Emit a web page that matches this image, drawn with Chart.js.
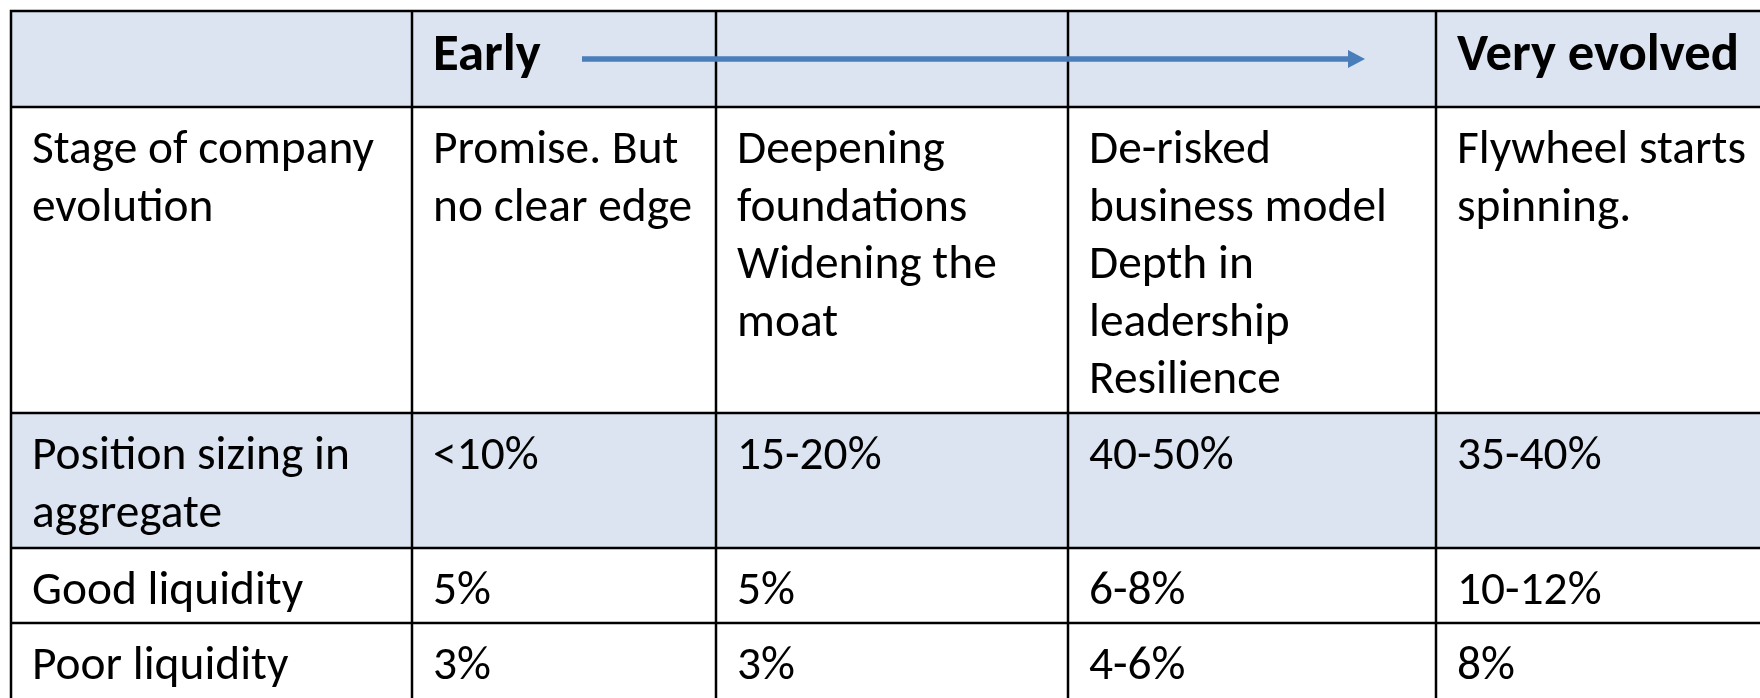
<!DOCTYPE html>
<html><head><meta charset="utf-8">
<script src="https://cdn.jsdelivr.net/npm/chart.js@4/dist/chart.umd.min.js"></script>
<style>html,body{margin:0;padding:0;background:#fff;overflow:hidden}canvas{display:block}</style>
</head><body>
<canvas id="c" width="1760" height="698"></canvas>
<script>
// ---- table content ----
const columnHeaders = ["", "Early", "", "", "Very evolved"];
const rowLabels = ["Stage of company\nevolution", "Position sizing in\naggregate", "Good liquidity", "Poor liquidity"];
const earlyStage = ["Promise. But\nno clear edge", "<10%", "5%", "3%"];
const deepeningStage = ["Deepening\nfoundations\nWidening the\nmoat", "15-20%", "5%", "3%"];
const deRiskedStage = ["De-risked\nbusiness model\nDepth in\nleadership\nResilience", "40-50%", "6-8%", "4-6%"];
const evolvedStage = ["Flywheel starts\nspinning.", "35-40%", "10-12%", "8%"];
const columns = [rowLabels, earlyStage, deepeningStage, deRiskedStage, evolvedStage];

// ---- layout & style (kept apart from the data) ----
const LAYOUT = {
  colEdges: [11, 412, 716, 1068, 1436, 1800],
  rowEdges: [11, 107, 413, 548, 623, 740],
  shaded: [true, false, true, false, false],
  padX: 21, baseline: 56, headerBaseline: 59, lineHeight: 57.5,
  arrow: { x0: 582, x1: 1365, y: 59, headLen: 17, headHalf: 9, width: 5.5 }
};
const STYLE = {
  fill: '#dbe4f0', border: '#000000', borderWidth: 2.5, text: '#000000', arrow: '#4a7ebb',
  family: "Carlito, Calibri, Lato, 'Open Sans', sans-serif"
};

function fitSize(ctx, weight, sample, target) {
  ctx.font = weight + ' 100px ' + STYLE.family;
  return 100 * target / ctx.measureText(sample).width;
}

const tablePlugin = {
  id: 'table',
  afterDraw(chart) {
    const ctx = chart.ctx, xs = chart.scales.x, ys = chart.scales.y;
    const X = v => xs.getPixelForValue(v), Y = v => ys.getPixelForValue(v);
    const cE = LAYOUT.colEdges, rE = LAYOUT.rowEdges;
    ctx.save();
    // fills
    ctx.fillStyle = STYLE.fill;
    for (let r = 0; r < rE.length - 1; r++) {
      if (!LAYOUT.shaded[r]) continue;
      ctx.fillRect(X(cE[0]), Y(rE[r]), X(cE[cE.length - 1]) - X(cE[0]), Y(rE[r + 1]) - Y(rE[r]));
    }
    // grid
    ctx.strokeStyle = STYLE.border; ctx.lineWidth = STYLE.borderWidth;
    ctx.beginPath();
    rE.forEach(v => { ctx.moveTo(X(cE[0]) - 1.25, Y(v)); ctx.lineTo(X(cE[cE.length - 1]), Y(v)); });
    cE.forEach(v => { ctx.moveTo(X(v), Y(rE[0]) - 1.25); ctx.lineTo(X(v), Y(rE[rE.length - 1])); });
    ctx.stroke();
    // text
    const regSize = fitSize(ctx, 'normal', 'Stage of company', 342);
    const boldSize = fitSize(ctx, 'bold', 'Very evolved', 282);
    ctx.fillStyle = STYLE.text; ctx.textAlign = 'left'; ctx.textBaseline = 'alphabetic';
    ctx.font = 'bold ' + boldSize.toFixed(2) + 'px ' + STYLE.family;
    columnHeaders.forEach((t, c) => {
      if (t) ctx.fillText(t, X(cE[c]) + LAYOUT.padX, Y(rE[0]) + LAYOUT.headerBaseline);
    });
    ctx.font = 'normal ' + regSize.toFixed(2) + 'px ' + STYLE.family;
    columns.forEach((col, c) => {
      col.forEach((t, r) => {
        t.split('\n').forEach((line, i) => {
          ctx.fillText(line, X(cE[c]) + LAYOUT.padX, Y(rE[r + 1]) + LAYOUT.baseline + i * LAYOUT.lineHeight);
        });
      });
    });
    // arrow
    const a = LAYOUT.arrow;
    ctx.strokeStyle = STYLE.arrow; ctx.fillStyle = STYLE.arrow; ctx.lineWidth = a.width; ctx.lineCap = 'butt';
    ctx.beginPath(); ctx.moveTo(X(a.x0), Y(a.y)); ctx.lineTo(X(a.x1 - a.headLen + 1), Y(a.y)); ctx.stroke();
    ctx.beginPath();
    ctx.moveTo(X(a.x1), Y(a.y));
    ctx.lineTo(X(a.x1 - a.headLen), Y(a.y - a.headHalf));
    ctx.lineTo(X(a.x1 - a.headLen), Y(a.y + a.headHalf));
    ctx.closePath(); ctx.fill();
    ctx.restore();
  }
};

new Chart(document.getElementById('c'), {
  type: 'scatter',
  data: { datasets: [{ data: [], pointRadius: 0 }] },
  options: {
    responsive: false, animation: false, events: [],
    layout: { padding: 0 },
    plugins: { legend: { display: false }, tooltip: { enabled: false } },
    scales: {
      x: { type: 'linear', min: 0, max: 1760, display: false },
      y: { type: 'linear', min: 0, max: 698, reverse: true, display: false }
    }
  },
  plugins: [tablePlugin]
});
</script>
</body></html>
